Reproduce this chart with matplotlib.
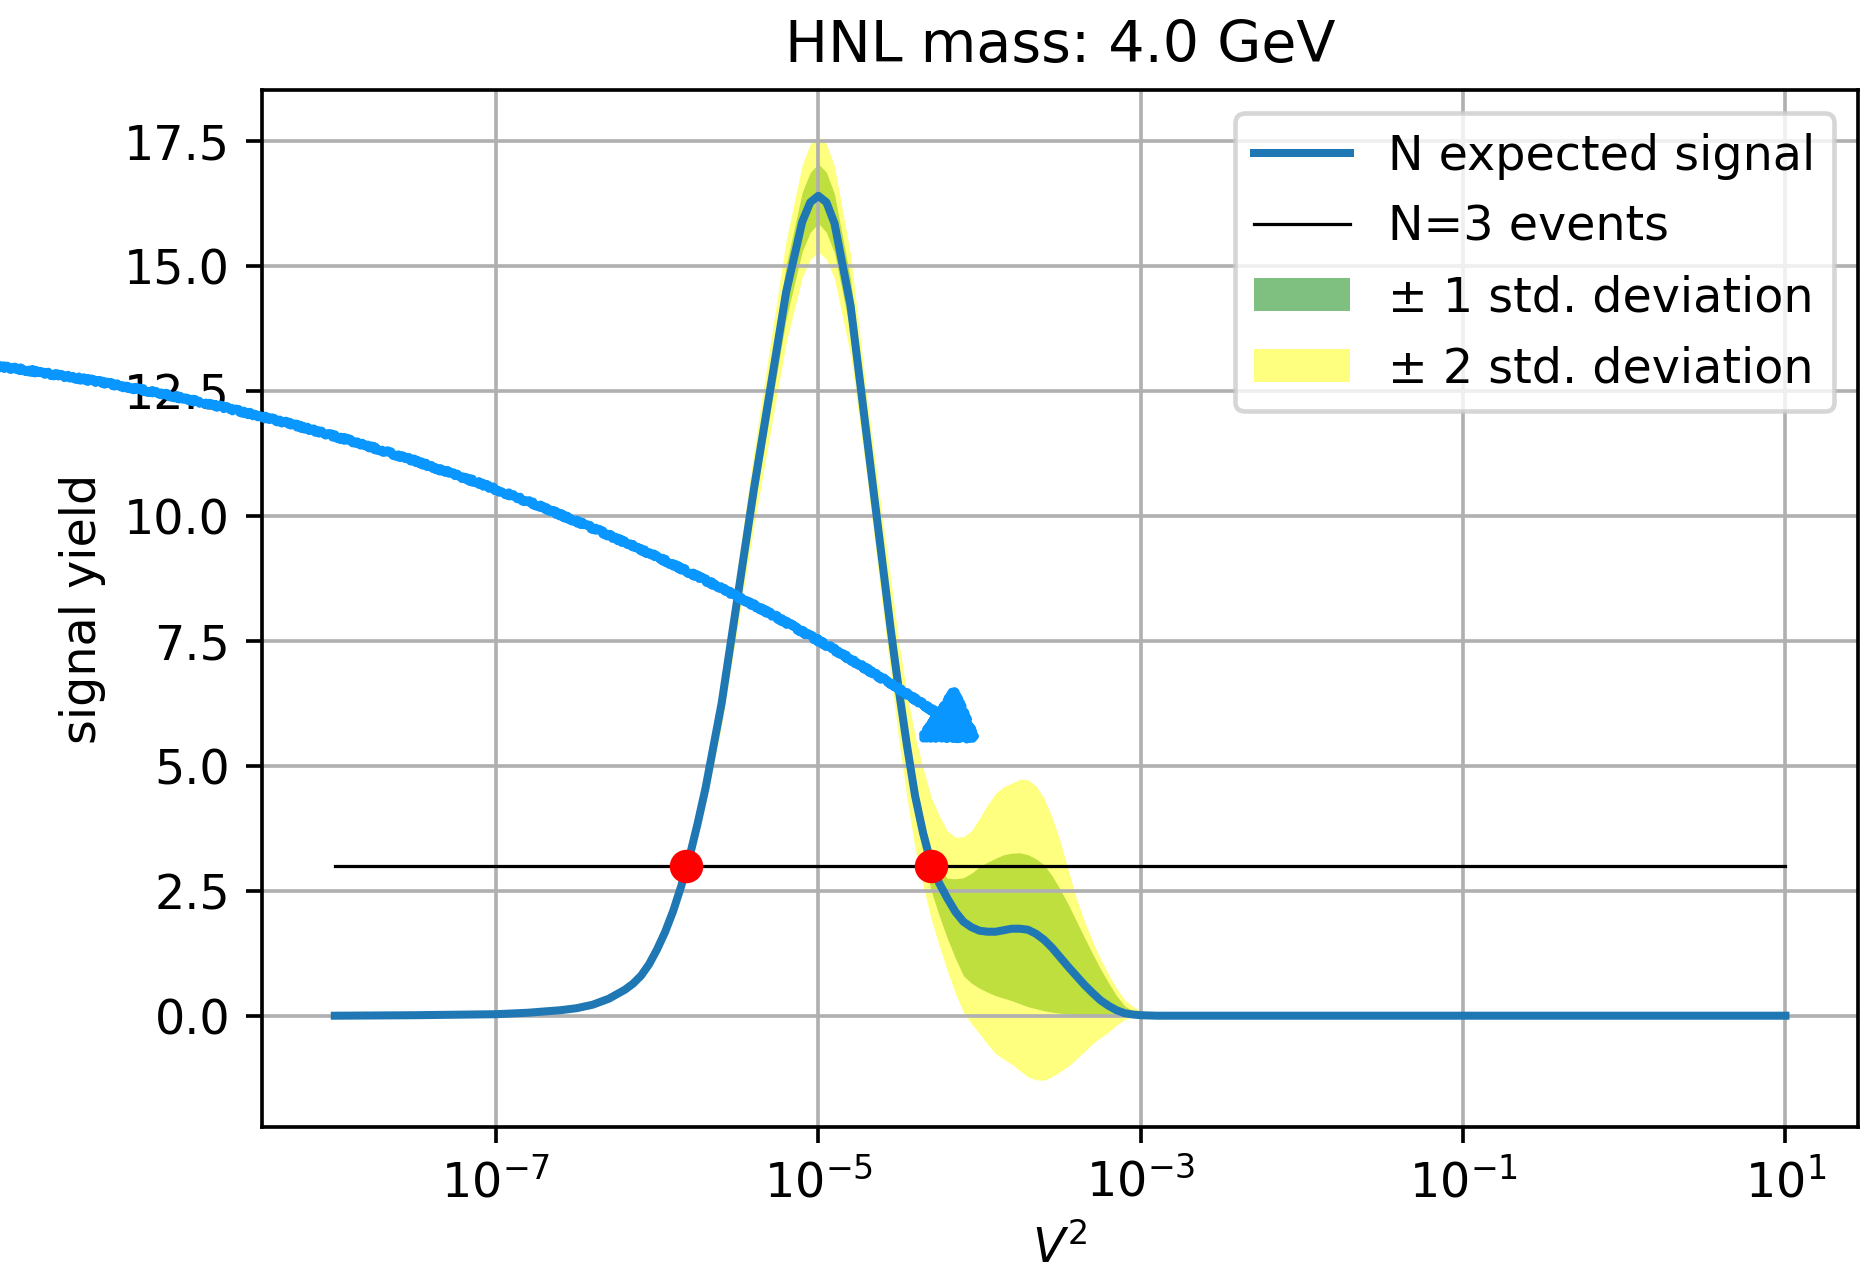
import matplotlib
matplotlib.use("Agg")
import matplotlib.pyplot as plt
import numpy as np
from matplotlib.patches import FancyArrowPatch
from matplotlib.ticker import NullLocator

# log10(V^2) sample points
log_v2 = [-8.0, -7.5, -7.0, -6.8, -6.6, -6.5, -6.4, -6.3, -6.2,
          -6.15, -6.1, -6.05, -6.0, -5.95, -5.9, -5.85, -5.8, -5.75,
          -5.7, -5.6, -5.5, -5.4, -5.3, -5.2, -5.1, -5.05,
          -5.0, -4.95, -4.9, -4.8, -4.7, -4.6, -4.55,
          -4.5, -4.45, -4.4, -4.35, -4.3, -4.25, -4.2, -4.15, -4.1, -4.05,
          -4.0, -3.95, -3.9, -3.85, -3.8, -3.75, -3.7, -3.65, -3.6, -3.55,
          -3.5, -3.45, -3.4, -3.35, -3.3, -3.25, -3.2, -3.15, -3.1, -3.05,
          -3.0, -2.9, -2.8, -2.5, -2.0, -1.0, 0.0, 1.0]

# expected signal
signal = [0.00, 0.01, 0.03, 0.06, 0.11, 0.15, 0.22, 0.34, 0.52,
          0.64, 0.80, 1.03, 1.33, 1.68, 2.10, 2.60, 3.17, 3.83,
          4.55, 6.25, 8.39, 10.53, 12.50, 14.47, 15.88, 16.27,
          16.40, 16.27, 15.85, 14.20, 11.60, 9.00, 7.70,
          6.50, 5.40, 4.40, 3.65, 3.05, 2.65, 2.35, 2.08, 1.88, 1.77,
          1.70, 1.68, 1.68, 1.71, 1.74, 1.74, 1.72, 1.64, 1.52, 1.36,
          1.17, 0.98, 0.80, 0.62, 0.46, 0.31, 0.20, 0.11, 0.05, 0.025,
          0.01, 0.00, 0.00, 0.00, 0.00, 0.00, 0.00, 0.00]

# +-1 sigma band
sig1_lo = [0.00, 0.01, 0.03, 0.06, 0.105, 0.145, 0.21, 0.33, 0.50,
           0.62, 0.77, 0.99, 1.28, 1.62, 2.02, 2.50, 3.05, 3.69,
           4.38, 6.02, 8.08, 10.14, 12.04, 13.93, 15.29, 15.67,
           15.85, 15.67, 15.26, 13.67, 11.17, 8.55, 7.30,
           6.10, 5.00, 4.00, 3.25, 2.50, 2.00, 1.55, 1.15, 0.80, 0.65,
           0.55, 0.47, 0.40, 0.35, 0.30, 0.24, 0.18, 0.14, 0.10, 0.07,
           0.05, 0.03, 0.02, 0.015, 0.01, 0.005, 0.00, 0.00, 0.00, 0.00,
           0.00, 0.00, 0.00, 0.00, 0.00, 0.00, 0.00, 0.00]
sig1_hi = [0.00, 0.01, 0.03, 0.06, 0.115, 0.155, 0.23, 0.35, 0.54,
           0.66, 0.83, 1.07, 1.38, 1.74, 2.18, 2.70, 3.29, 3.97,
           4.72, 6.48, 8.70, 10.92, 12.96, 15.01, 16.47, 16.87,
           17.04, 16.87, 16.44, 14.73, 12.03, 9.45, 8.10,
           6.90, 5.80, 4.75, 3.95, 3.30, 2.95, 2.75, 2.74, 2.76, 2.85,
           2.98, 3.07, 3.15, 3.22, 3.25, 3.26, 3.22, 3.14, 3.02, 2.80,
           2.53, 2.23, 1.90, 1.57, 1.25, 0.94, 0.66, 0.40, 0.20, 0.09,
           0.03, 0.00, 0.00, 0.00, 0.00, 0.00, 0.00, 0.00]

# +-2 sigma band
sig2_lo = [0.00, 0.01, 0.03, 0.055, 0.10, 0.14, 0.20, 0.32, 0.48,
           0.60, 0.74, 0.96, 1.24, 1.56, 1.95, 2.42, 2.95, 3.56,
           4.23, 5.81, 7.80, 9.79, 11.63, 13.46, 14.77, 15.13,
           15.28, 15.13, 14.74, 13.21, 10.79, 8.10, 6.80,
           5.50, 4.35, 3.35, 2.60, 1.93, 1.40, 0.90, 0.45, 0.07, -0.16,
           -0.36, -0.57, -0.76, -0.87, -0.97, -1.10, -1.22, -1.28, -1.29, -1.22,
           -1.12, -1.01, -0.87, -0.72, -0.56, -0.44, -0.33, -0.19, -0.08, -0.03,
           -0.01, 0.00, 0.00, 0.00, 0.00, 0.00, 0.00, 0.00]
sig2_hi = [0.00, 0.01, 0.03, 0.065, 0.12, 0.16, 0.24, 0.36, 0.56,
           0.69, 0.86, 1.10, 1.43, 1.80, 2.25, 2.79, 3.40, 4.11,
           4.88, 6.70, 8.99, 11.29, 13.40, 15.51, 17.02, 17.44,
           17.58, 17.44, 16.99, 15.22, 12.44, 9.90, 8.70,
           7.45, 6.45, 5.60, 4.95, 4.37, 4.00, 3.70, 3.57, 3.58, 3.70,
           3.95, 4.22, 4.45, 4.58, 4.65, 4.73, 4.72, 4.60, 4.35, 3.97,
           3.50, 2.92, 2.35, 1.90, 1.50, 1.14, 0.83, 0.55, 0.32, 0.19,
           0.10, 0.02, 0.00, 0.00, 0.00, 0.00, 0.00, 0.00]

n_limit = 3
cross_log_v2 = [-5.82, -4.30]
xtick_exp = [-7, -5, -3, -1, 1]

v2 = 10.0 ** np.array(log_v2)
cross_v2 = 10.0 ** np.array(cross_log_v2)

plt.rcParams["font.size"] = 10.4

fig = plt.figure(figsize=(1872 / 330, 1266 / 330), dpi=330)
ax = fig.add_subplot(111)
fig.subplots_adjust(left=0.1401, right=0.9925, bottom=0.1095, top=0.9292)

ax.plot(v2, signal, color="tab:blue", lw=1.75, label="N expected signal")
ax.plot([v2[0], v2[-1]], [n_limit, n_limit], color="k", lw=0.7, label="N=3 events")
ax.fill_between(v2, sig1_lo, sig1_hi, color="green", alpha=0.5, lw=0,
                label="± 1 std. deviation")
ax.fill_between(v2, sig2_lo, sig2_hi, color="yellow", alpha=0.5, lw=0,
                label="± 2 std. deviation")
ax.plot(cross_v2, [n_limit] * len(cross_v2), "o", color="red", ms=6.3, zorder=4)

ax.set_xscale("log")
ax.set_xticks(10.0 ** np.array(xtick_exp, dtype=float))
ax.xaxis.set_minor_locator(NullLocator())
ax.grid(True)
ax.set_xlabel("$V^2$")
ax.set_ylabel("signal yield")
ax.set_title("HNL mass: 4.0 GeV")
ax.legend(loc="upper right")

# hand drawn arrow over the figure
arrow = FancyArrowPatch((-0.005, 0.7115), (0.5235, 0.4139),
                        transform=fig.transFigure,
                        connectionstyle="arc3,rad=-0.12",
                        arrowstyle="-|>,head_length=0.46,head_width=0.3",
                        mutation_scale=20, lw=1.8, color="#0a96ff",
                        shrinkA=0, shrinkB=0, zorder=10)
arrow.set_sketch_params(scale=1.8, length=2.5, randomness=4.0)
fig.add_artist(arrow)

fig.savefig("out.png", dpi=330)
